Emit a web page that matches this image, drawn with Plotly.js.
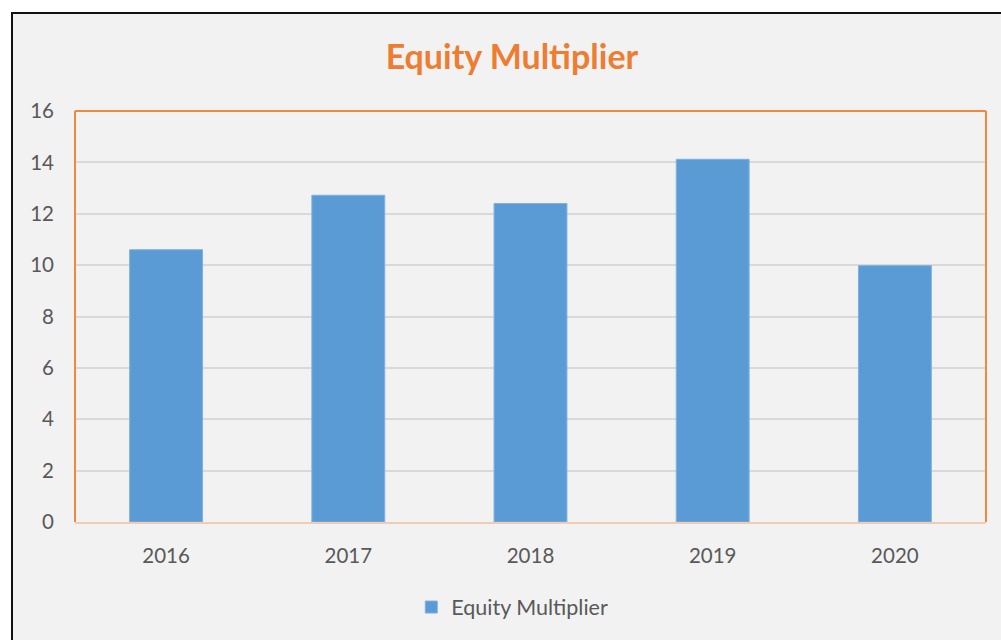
<!DOCTYPE html>
<html>
<head>
<meta charset="utf-8">
<script src="https://cdn.plot.ly/plotly-3.0.1.min.js"></script>
<style>
  html, body { margin: 0; padding: 0; background: #ffffff; width: 1001px; height: 640px; overflow: hidden; }
  #frame { position: absolute; left: 11px; top: 12px; width: 990px; height: 628px;
           border-top: 2px solid #111; border-left: 2px solid #111; background: #f2f2f2; }
  #chart { position: absolute; left: 13px; top: 14px; width: 988px; height: 626px; }
</style>
</head>
<body>
<div id="frame"></div>
<div id="chart"></div>
<script>
const years = ['2016', '2017', '2018', '2019', '2020'];
const equityMultiplier = [10.6, 12.72, 12.4, 14.12, 9.98];
const seriesName = 'Equity Multiplier';
const chartTitle = 'Equity Multiplier';
const yTicks = [0, 2, 4, 6, 8, 10, 12, 14, 16];

const orange = '#f0883e';
const font = 'Lato, Carlito, "Open Sans", sans-serif';

const data = [{
  type: 'bar',
  x: years,
  y: equityMultiplier,
  name: seriesName,
  marker: { color: '#5b9bd5', line: { color: '#7fb0e0', width: 1 } },
  showlegend: true,
  hoverinfo: 'x+y'
}];

const layout = {
  width: 988, height: 626,
  margin: { l: 62, r: 15, t: 97, b: 118 },
  paper_bgcolor: '#f2f2f2',
  plot_bgcolor: '#f2f2f2',
  font: { family: font, color: '#595959', size: 20 },
  title: {
    text: '<b>' + chartTitle + '</b>',
    font: { family: font, size: 34, color: '#ed7d31' },
    x: 0.505, xanchor: 'center', y: 0.931, yanchor: 'middle', yref: 'container'
  },
  bargap: 0.6,
  xaxis: {
    type: 'category',
    showgrid: false, zeroline: false,
    showline: true, linecolor: '#f2cbb3', linewidth: 2,
    ticks: '', ticklabelstandoff: 14,
    tickfont: { size: 20.5, color: '#595959' }
  },
  yaxis: {
    range: [0, 16], tickvals: yTicks,
    showgrid: true, gridcolor: '#d9d9d9', gridwidth: 2,
    zeroline: false, showline: false, ticks: '',
    ticklabelstandoff: 20,
    tickfont: { size: 20.5, color: '#595959' }
  },
  legend: {
    orientation: 'h', x: 0.48, xanchor: 'center', y: -0.207, yanchor: 'middle',
    font: { size: 21.5, color: '#595959' }, bgcolor: 'rgba(0,0,0,0)',
    itemwidth: 30
  },
  shapes: [
    { type: 'line', xref: 'paper', yref: 'paper', x0: 0, x1: 0, y0: 0, y1: 1, line: { color: orange, width: 2 } },
    { type: 'line', xref: 'paper', yref: 'paper', x0: 0, x1: 1, y0: 1, y1: 1, line: { color: orange, width: 2 } },
    { type: 'line', xref: 'paper', yref: 'paper', x0: 1, x1: 1, y0: 0, y1: 1, line: { color: orange, width: 2 } }
  ]
};

Plotly.newPlot('chart', data, layout, { displayModeBar: false, staticPlot: true });
</script>
</body>
</html>
